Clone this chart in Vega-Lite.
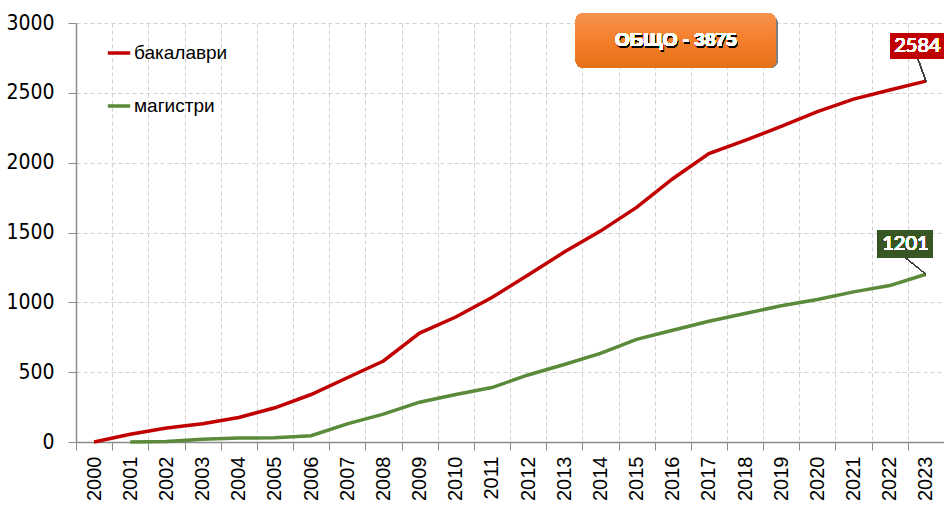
{
  "$schema": "https://vega.github.io/schema/vega-lite/v6.json",
  "width": 868,
  "height": 419,
  "autosize": {"type": "none"},
  "padding": {"left": 76, "top": 23, "right": 0, "bottom": 63},
  "background": "white",
  "config": {
    "view": {"stroke": null},
    "font": "Liberation Sans"
  },
  "data": {
    "values": [
      {"year": "2000", "series": "бакалаври", "value": 0},
      {"year": "2001", "series": "бакалаври", "value": 55},
      {"year": "2002", "series": "бакалаври", "value": 100},
      {"year": "2003", "series": "бакалаври", "value": 130},
      {"year": "2004", "series": "бакалаври", "value": 175},
      {"year": "2005", "series": "бакалаври", "value": 245},
      {"year": "2006", "series": "бакалаври", "value": 340},
      {"year": "2007", "series": "бакалаври", "value": 460},
      {"year": "2008", "series": "бакалаври", "value": 580},
      {"year": "2009", "series": "бакалаври", "value": 780},
      {"year": "2010", "series": "бакалаври", "value": 895},
      {"year": "2011", "series": "бакалаври", "value": 1035},
      {"year": "2012", "series": "бакалаври", "value": 1195},
      {"year": "2013", "series": "бакалаври", "value": 1360},
      {"year": "2014", "series": "бакалаври", "value": 1510},
      {"year": "2015", "series": "бакалаври", "value": 1680},
      {"year": "2016", "series": "бакалаври", "value": 1885},
      {"year": "2017", "series": "бакалаври", "value": 2065},
      {"year": "2018", "series": "бакалаври", "value": 2160},
      {"year": "2019", "series": "бакалаври", "value": 2260},
      {"year": "2020", "series": "бакалаври", "value": 2365},
      {"year": "2021", "series": "бакалаври", "value": 2455},
      {"year": "2022", "series": "бакалаври", "value": 2520},
      {"year": "2023", "series": "бакалаври", "value": 2584},
      {"year": "2001", "series": "магистри", "value": 0},
      {"year": "2002", "series": "магистри", "value": 3},
      {"year": "2003", "series": "магистри", "value": 20},
      {"year": "2004", "series": "магистри", "value": 28},
      {"year": "2005", "series": "магистри", "value": 30},
      {"year": "2006", "series": "магистри", "value": 45},
      {"year": "2007", "series": "магистри", "value": 130},
      {"year": "2008", "series": "магистри", "value": 200},
      {"year": "2009", "series": "магистри", "value": 285},
      {"year": "2010", "series": "магистри", "value": 340},
      {"year": "2011", "series": "магистри", "value": 390},
      {"year": "2012", "series": "магистри", "value": 480},
      {"year": "2013", "series": "магистри", "value": 555},
      {"year": "2014", "series": "магистри", "value": 635},
      {"year": "2015", "series": "магистри", "value": 735},
      {"year": "2016", "series": "магистри", "value": 800},
      {"year": "2017", "series": "магистри", "value": 865},
      {"year": "2018", "series": "магистри", "value": 920},
      {"year": "2019", "series": "магистри", "value": 975},
      {"year": "2020", "series": "магистри", "value": 1020},
      {"year": "2021", "series": "магистри", "value": 1075},
      {"year": "2022", "series": "магистри", "value": 1120},
      {"year": "2023", "series": "магистри", "value": 1201}
    ]
  },
  "layer": [
    {
      "mark": {"type": "line", "strokeWidth": 3.5},
      "encoding": {
        "x": {
          "field": "year", "type": "ordinal", "bandPosition": 0.5,
          "scale": {"type": "band", "paddingInner": 0, "paddingOuter": 0},
          "axis": {
            "title": null, "labelAngle": -90, "labelAlign": "right", "labelBaseline": "middle",
            "labelFontSize": 20, "labelColor": "#000000", "labelPadding": 6,
            "tickBand": "extent", "tickSize": 8, "tickColor": "#8c8c8c",
            "domainColor": "#8c8c8c", "domainWidth": 1.5,
            "grid": true, "gridColor": "#d0d0d0", "gridDash": [4, 3]
          }
        },
        "y": {
          "field": "value", "type": "quantitative",
          "scale": {"domain": [0, 3000], "nice": false},
          "axis": {
            "title": null, "values": [0, 500, 1000, 1500, 2000, 2500, 3000], "format": "d",
            "labelFont": "DejaVu Sans Condensed, Liberation Sans, sans-serif", "labelFontSize": 21,
            "labelColor": "#000000", "labelPadding": 14,
            "tickSize": 8, "tickColor": "#8c8c8c",
            "domainColor": "#8c8c8c", "domainWidth": 1.5,
            "grid": true, "gridColor": "#d0d0d0", "gridDash": [4, 3]
          }
        },
        "color": {
          "field": "series", "type": "nominal",
          "scale": {"domain": ["бакалаври", "магистри"], "range": ["#C00000", "#5A8A3A"]},
          "legend": {
            "title": null, "orient": "none", "legendX": 30, "legendY": 17,
            "symbolType": "stroke", "symbolStrokeWidth": 3.5, "symbolSize": 500,
            "labelFontSize": 19, "labelColor": "#000000", "rowPadding": 30, "labelOffset": 2
          }
        }
      }
    },
    {
      "mark": {"type": "rule", "color": "#404040", "strokeWidth": 1},
      "encoding": {
        "x": {"datum": "2023", "type": "ordinal", "bandPosition": 0.28},
        "y": {"datum": 2742},
        "x2": {"datum": "2023", "bandPosition": 0.5},
        "y2": {"datum": 2584}
      }
    },
    {
      "mark": {"type": "rule", "color": "#404040", "strokeWidth": 1},
      "encoding": {
        "x": {"datum": "2022", "type": "ordinal", "bandPosition": 0.94},
        "y": {"datum": 1318},
        "x2": {"datum": "2023", "bandPosition": 0.5},
        "y2": {"datum": 1201}
      }
    },
    {
      "mark": {"type": "bar", "width": 54, "xOffset": -8.5, "color": "#C00000"},
      "encoding": {
        "x": {"datum": "2023", "type": "ordinal"},
        "y": {"datum": 2928},
        "y2": {"datum": 2742}
      }
    },
    {
      "mark": {"type": "text", "dx": -8.5, "color": "white", "fontSize": 20, "fontWeight": "normal", "font": "Lato", "align": "center", "baseline": "middle"},
      "encoding": {
        "x": {"datum": "2023", "type": "ordinal"},
        "y": {"datum": 2835},
        "text": {"value": "2584"}
      }
    },
    {
      "mark": {"type": "bar", "width": 55, "xOffset": -20.5, "color": "#375623"},
      "encoding": {
        "x": {"datum": "2023", "type": "ordinal"},
        "y": {"datum": 1518},
        "y2": {"datum": 1318}
      }
    },
    {
      "mark": {"type": "text", "dx": -20.5, "color": "white", "fontSize": 20, "fontWeight": "normal", "font": "Lato", "align": "center", "baseline": "middle"},
      "encoding": {
        "x": {"datum": "2023", "type": "ordinal"},
        "y": {"datum": 1418},
        "text": {"value": "1201"}
      }
    },
    {
      "mark": {"type": "bar", "width": 200, "xOffset": 5, "yOffset": 3, "color": "#7f7f7f", "opacity": 0.3, "cornerRadius": 8},
      "encoding": {
        "x": {"datum": "2016", "type": "ordinal"},
        "y": {"datum": 3072},
        "y2": {"datum": 2678}
      }
    },
    {
      "mark": {
        "type": "bar", "width": 200, "xOffset": 3, "cornerRadius": 8,
        "color": {"gradient": "linear", "x1": 0, "y1": 0, "x2": 0, "y2": 1,
          "stops": [{"offset": 0, "color": "#F69350"}, {"offset": 0.5, "color": "#F47F2A"}, {"offset": 1, "color": "#E5701A"}]}
      },
      "encoding": {
        "x": {"datum": "2016", "type": "ordinal"},
        "y": {"datum": 3072},
        "y2": {"datum": 2678}
      }
    },
    {
      "mark": {"type": "text", "dx": 4, "dy": 1.5, "color": "#000000", "opacity": 0.18, "fontSize": 19, "fontWeight": "bold", "align": "center", "baseline": "middle"},
      "encoding": {
        "x": {"datum": "2016", "type": "ordinal"},
        "y": {"datum": 2875},
        "text": {"value": "ОБЩО - 3875"}
      }
    },
    {
      "mark": {"type": "text", "dx": 3, "color": "white", "fontSize": 19, "fontWeight": "bold", "align": "center", "baseline": "middle"},
      "encoding": {
        "x": {"datum": "2016", "type": "ordinal"},
        "y": {"datum": 2875},
        "text": {"value": "ОБЩО - 3875"}
      }
    }
  ]
}
